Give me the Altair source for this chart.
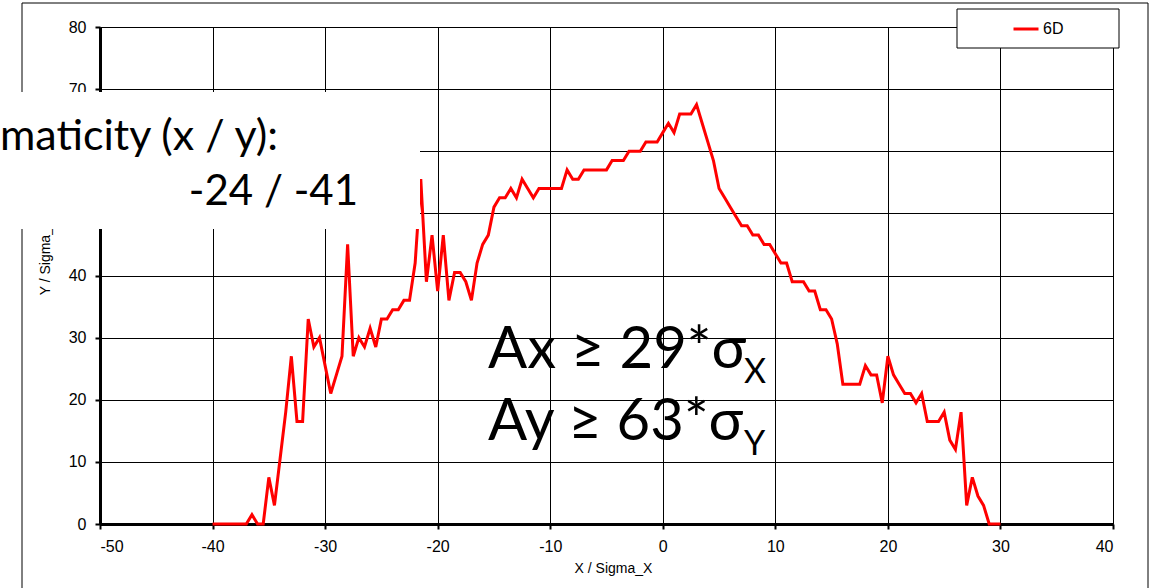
import altair as alt
import pandas as pd

# ---- data ----
x_vals = [-40, -39.5, -39, -38.5, -38, -37.5, -37, -36.5, -36, -35.5,
          -35, -34.5, -34, -33.5, -33, -32.5, -32, -31.5, -31, -30.5,
          -30, -29.5, -29, -28.5, -28, -27.5, -27, -26.5, -26, -25.5,
          -25, -24.5, -24, -23.5, -23, -22.5, -22, -21.5, -21, -20.5,
          -20, -19.5, -19, -18.5, -18, -17.5, -17, -16.5, -16, -15.5,
          -15, -14.5, -14, -13.5, -13, -12.5, -12, -11.5, -11, -10.5,
          -10, -9.5, -9, -8.5, -8, -7.5, -7, -6.5, -6, -5.5,
          -5, -4.5, -4, -3.5, -3, -2.5, -2, -1.5, -1, -0.5,
          0, 0.5, 1, 1.5, 2, 2.5, 3, 3.5, 4, 4.5,
          5, 5.5, 6, 6.5, 7, 7.5, 8, 8.5, 9, 9.5,
          10, 10.5, 11, 11.5, 12, 12.5, 13, 13.5, 14, 14.5,
          15, 15.5, 16, 16.5, 17, 17.5, 18, 18.5, 19, 19.5,
          20, 20.5, 21, 21.5, 22, 22.5, 23, 23.5, 24, 24.5,
          25, 25.5, 26, 26.5, 27, 27.5, 28, 28.5, 29, 29.5, 30]
y_vals = [0, 0, 0, 0, 0, 0, 0, 1.5, 0, 0,
          7.5, 3, 10.5, 18, 27, 16.5, 16.5, 33, 28.5, 30,
          25.5, 21, 24, 27, 45, 27, 30, 28.5, 31.5, 28.5,
          33, 33, 34.5, 34.5, 36, 36, 42, 55.5, 39, 46.5,
          37.5, 46.5, 36, 40.5, 40.5, 39, 36, 42, 45, 46.5,
          51, 52.5, 52.5, 54, 52.5, 55.5, 54, 52.5, 54, 54,
          54, 54, 54, 57, 55.5, 55.5, 57, 57, 57, 57,
          57, 58.5, 58.5, 58.5, 60, 60, 60, 61.5, 61.5, 61.5,
          63, 64.5, 63, 66, 66, 66, 67.5, 64.5, 61.5, 58.5,
          54, 52.5, 51, 49.5, 48, 48, 46.5, 46.5, 45, 45,
          43.5, 42, 42, 39, 39, 39, 37.5, 37.5, 34.5, 34.5,
          33, 29, 22.5, 22.5, 22.5, 22.5, 25.5, 24, 24, 19.5,
          27, 24, 22.5, 21, 21, 19.5, 21, 16.5, 16.5, 16.5,
          18, 13.5, 12, 18, 3, 7.5, 4.5, 3, 0, 0, 0]
series_name = "6D"
x_ticks = [-50, -40, -30, -20, -10, 0, 10, 20, 30, 40]
y_ticks = [0, 10, 20, 30, 40, 50, 60, 70, 80]
y_hidden_labels = [50, 60]  # covered by the text box in the reference

chroma_line1 = "maticity (x / y):"
chroma_line2 = "-24 / -41"
ax_text = "Ax \u2265 29*\u03c3"
ax_sub = "X"
ay_text = "Ay \u2265 63*\u03c3"
ay_sub = "Y"

df = pd.DataFrame({"x": x_vals, "y": y_vals, "series": [series_name] * len(x_vals)})
one = pd.DataFrame({"k": [0]})

W, H = 1013, 497
BIG = "Lato"

border = alt.Chart(one).mark_rect(filled=False, stroke="#000000", strokeWidth=1).encode(
    x=alt.value(-78), x2=alt.value(1048), y=alt.value(-24), y2=alt.value(566)
)

hidden_expr = " || ".join(f"datum.value == {v}" for v in y_hidden_labels)

line = alt.Chart(df).mark_line(strokeWidth=3, clip=False).encode(
    x=alt.X("x:Q", scale=alt.Scale(domain=[-50, 40], nice=False, zero=False),
            axis=alt.Axis(values=x_ticks, title="X / Sigma_X", titleX=513, titleY=48,
                          titleBaseline="alphabetic", labelExpr="'' + datum.value")),
    y=alt.Y("y:Q", scale=alt.Scale(domain=[0, 80], nice=False),
            axis=alt.Axis(values=y_ticks, title="Y / Sigma_Y", titleX=-55, titleY=229,
                          titleAngle=270, titleAlign="center", titleBaseline="middle",
                          labelExpr=f"({hidden_expr}) ? '' : '' + datum.value")),
    color=alt.Color("series:N", scale=alt.Scale(domain=[series_name], range=["#ff0000"]),
                    legend=alt.Legend(title=None, orient="none", legendX=912, legendY=-12,
                                      symbolType="stroke", symbolSize=625, symbolStrokeWidth=3,
                                      labelFont="Liberation Sans", labelFontSize=16,
                                      labelColor="#000000", labelOffset=3, padding=0)),
)

legend_box = alt.Chart(one).mark_rect(fill="#ffffff", stroke="#000000", strokeWidth=1).encode(
    x=alt.value(857), x2=alt.value(1019), y=alt.value(-18), y2=alt.value(21)
)

white_box = alt.Chart(one).mark_rect(fill="#ffffff", strokeWidth=0).encode(
    x=alt.value(-100), x2=alt.value(320), y=alt.value(65), y2=alt.value(202)
)


def txt(s, x, y, size, align="left"):
    return alt.Chart(one).mark_text(font=BIG, fontSize=size, align=align,
                                    baseline="alphabetic", color="#000000").encode(
        x=alt.value(x), y=alt.value(y), text=alt.value(s))


texts = [
    txt(chroma_line1, -100, 123, 43),
    txt(chroma_line2, 258, 178, 42, align="right"),
    txt(ax_text, 388, 341, 58),
    txt(ax_sub, 644, 356, 34),
    txt(ay_text, 388, 413, 58),
    txt(ay_sub, 644, 428, 34),
]

chart = alt.layer(border, line, legend_box, white_box, *texts).properties(
    width=W, height=H,
    padding={"left": 100, "top": 27, "right": 40, "bottom": 64},
    autosize=alt.AutoSizeParams(type="none"),
).configure_view(stroke=None).configure_axis(
    domainColor="#000000", domainWidth=3, tickColor="#000000", tickWidth=2, tickSize=5,
    gridColor="#000000", gridWidth=1, gridOpacity=1,
    labelFont="Liberation Sans", labelFontSize=16, labelColor="#000000", labelPadding=9,
    titleFont="Liberation Sans", titleFontSize=14, titleFontWeight="normal", titleColor="#000000",
)

chart.save("out.html", embed_options={"renderer": "svg", "actions": False})
